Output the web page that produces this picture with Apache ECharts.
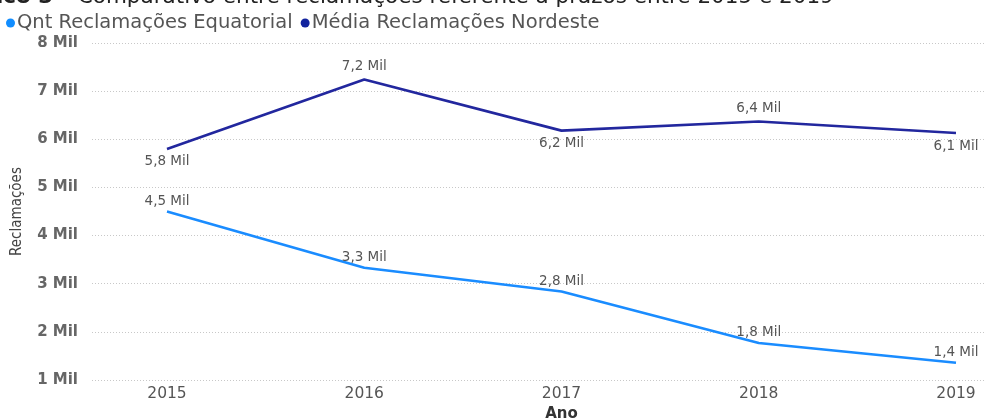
<!DOCTYPE html>
<html>
<head>
<meta charset="utf-8">
<script src="https://cdn.jsdelivr.net/npm/echarts@6/dist/echarts.min.js"></script>
<style>html,body{margin:0;padding:0;background:#fff}#c{width:986px;height:419px}</style>
</head>
<body>
<div id="c"></div>
<script>
const anos = ['2015', '2016', '2017', '2018', '2019'];
const equatorial = [4500, 3330, 2840, 1770, 1360];
const nordeste = [5800, 7240, 6180, 6370, 6130];
const yTicks = [1000, 2000, 3000, 4000, 5000, 6000, 7000, 8000];

const nordesteLabelSide = ['bottom', 'top', 'bottom', 'top', 'bottom'];
const fmtMil = v => (v / 1000).toFixed(1).replace('.', ',') + ' Mil';

const chart = echarts.init(document.getElementById('c'));
const FONT = 'DejaVu Sans';
const labelStyle = { color: '#555', fontSize: 13.5, fontFamily: FONT };

chart.setOption({
  animation: false,
  textStyle: { fontFamily: FONT },
  graphic: [{
    type: 'text', left: -4, top: -14,
    style: {
      text: '{b|ico 3} – Comparativo entre reclamações referente a prazos entre 2015 e 2019',
      fontSize: 21.5, fontFamily: FONT, fill: '#222',
      rich: { b: { fontSize: 21.5, fontWeight: 'bold', fontFamily: FONT, color: '#222' } }
    }
  }],
  legend: {
    left: 1, top: 8, icon: 'circle', itemWidth: 9, itemHeight: 9, itemGap: 8,
    textStyle: { color: '#555', fontSize: 19.5, fontFamily: FONT, padding: [0, 0, 0, -3] },
    data: ['Qnt Reclamações Equatorial', 'Média Reclamações Nordeste']
  },
  grid: [
    { left: 92, right: 2, top: 43, bottom: 39, outerBoundsMode: 'none', containLabel: false },
    { left: 167, right: 30, top: 43, bottom: 39, outerBoundsMode: 'none', containLabel: false }
  ],
  xAxis: [
    { gridIndex: 0, type: 'value', show: false, min: 0, max: 1 },
    {
      gridIndex: 1, type: 'category', data: anos, boundaryGap: false,
      axisLine: { show: false }, axisTick: { show: false },
      axisLabel: { color: '#555', fontSize: 15.5, fontFamily: FONT, margin: 6 },
      name: 'Ano', nameLocation: 'middle', nameGap: 24,
      nameTextStyle: { color: '#333', fontSize: 15, fontWeight: 'bold', fontFamily: FONT }
    }
  ],
  yAxis: [
    {
      gridIndex: 0, type: 'value', min: yTicks[0], max: yTicks[yTicks.length - 1], interval: 1000,
      axisLine: { show: false }, axisTick: { show: false },
      axisLabel: { color: '#666', fontSize: 15, fontWeight: 'bold', fontFamily: FONT, margin: 14,
        formatter: v => (v / 1000) + ' Mil' },
      splitLine: { show: true, lineStyle: { color: '#c8c8c8', type: [1, 2], width: 1 } },
      name: 'Reclamações', nameLocation: 'middle', nameRotate: 90, nameGap: 67,
      nameTextStyle: { color: '#444', fontSize: 15, fontFamily: 'DejaVu Sans Condensed' }
    },
    {
      gridIndex: 1, type: 'value', min: yTicks[0], max: yTicks[yTicks.length - 1], interval: 1000,
      show: false, splitLine: { show: false }
    }
  ],
  series: [
    {
      name: 'Qnt Reclamações Equatorial', type: 'line', xAxisIndex: 1, yAxisIndex: 1,
      data: equatorial, showSymbol: true, symbol: 'circle', symbolSize: 0.1, color: '#118DFF',
      lineStyle: { width: 2.6, color: '#1a8cff' },
      label: { show: true, position: 'top', distance: 3, formatter: p => fmtMil(p.value), ...labelStyle }
    },
    {
      name: 'Média Reclamações Nordeste', type: 'line', xAxisIndex: 1, yAxisIndex: 1,
      data: nordeste.map((v, i) => ({ value: v, label: { position: nordesteLabelSide[i] } })),
      showSymbol: true, symbol: 'circle', symbolSize: 0.1, color: '#12239E',
      lineStyle: { width: 2.6, color: '#22279e' },
      label: { show: true, distance: 6, formatter: p => fmtMil(p.value), ...labelStyle }
    }
  ]
});
</script>
</body>
</html>
